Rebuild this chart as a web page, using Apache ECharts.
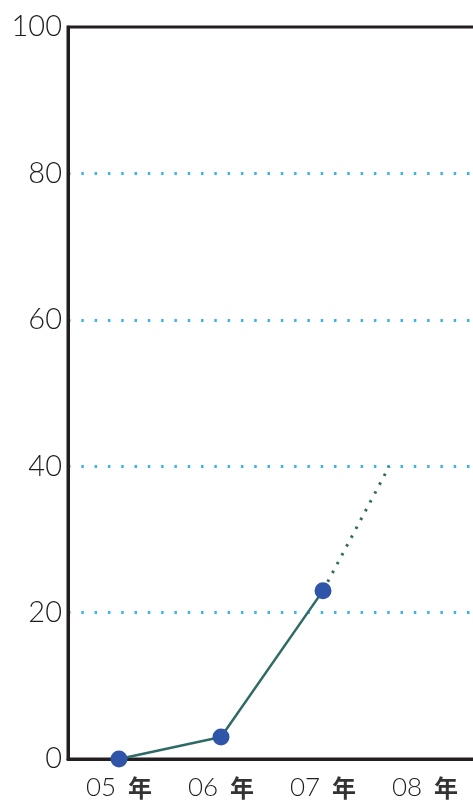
<!DOCTYPE html>
<html>
<head>
<meta charset="utf-8">
<style>
  html, body { margin: 0; padding: 0; background: #ffffff; }
  #chart { width: 473px; height: 800px; }
</style>
<script src="https://cdn.jsdelivr.net/npm/echarts@6/dist/echarts.min.js"></script>
</head>
<body>
<div id="chart"></div>
<script>
// Years along the bottom axis
const years = ['05', '06', '07', '08'];
// Measured values per year
const actual = [0, 3, 23];
// Dotted projection beyond the last measured year: [year position, value]
const projection = [[2, 23], [2.65, 40]];
// Value axis ticks
const yTicks = [0, 20, 40, 60, 80, 100];

const axisDark = '#231f20';
const textDark = '#1e1e1e';
const lineColor = '#2f6b66';
const markerColor = '#2f55a8';
const gridBlue = '#3cb4e6';

const chart = echarts.init(document.getElementById('chart'), null, { renderer: 'canvas' });

chart.setOption({
  animation: false,
  grid: {
    left: 68, top: 27, width: 408, height: 732,
    outerBoundsMode: 'none',
    show: true, borderColor: axisDark, borderWidth: 3,
    containLabel: false
  },
  xAxis: [
    {
      type: 'category',
      data: years,
      boundaryGap: true,
      axisLine: { show: true, lineStyle: { color: axisDark, width: 3 } },
      axisTick: { show: false },
      splitLine: { show: false },
      axisLabel: {
        margin: 16,
        formatter: v => '{d|' + v + '}{k|年}',
        rich: {
          d: { fontFamily: 'Lato', fontWeight: 300, fontSize: 26, color: textDark },
          k: { fontFamily: 'Noto Sans CJK JP', fontSize: 24, fontWeight: 'bold', color: '#333333', padding: [0, 0, 0, 12] }
        }
      }
    },
    {
      // Continuous helper axis aligned with the category bands, used for the projection
      type: 'value',
      min: -0.5,
      max: years.length - 0.5,
      show: false
    }
  ],
  yAxis: {
    type: 'value',
    min: yTicks[0],
    max: yTicks[yTicks.length - 1],
    interval: 20,
    axisLine: { show: true, onZero: false, lineStyle: { color: axisDark, width: 3 } },
    axisTick: { show: false },
    axisLabel: {
      margin: 6,
      fontFamily: 'Lato',
      fontWeight: 300,
      fontSize: 29,
      color: textDark
    },
    splitLine: {
      show: true,
      showMinLine: false,
      showMaxLine: false,
      lineStyle: { color: gridBlue, width: 3, type: [2.5, 10.8] }
    }
  },
  series: [
    {
      name: 'projection',
      type: 'line',
      xAxisIndex: 1,
      data: projection,
      symbol: 'none',
      lineStyle: { color: lineColor, width: 3, type: [2.5, 7.5] },
      z: 2
    },
    {
      name: 'actual',
      type: 'line',
      xAxisIndex: 0,
      data: actual,
      symbol: 'circle',
      symbolSize: 17,
      itemStyle: { color: markerColor },
      lineStyle: { color: lineColor, width: 2.5 },
      z: 3
    }
  ]
});
</script>
</body>
</html>
